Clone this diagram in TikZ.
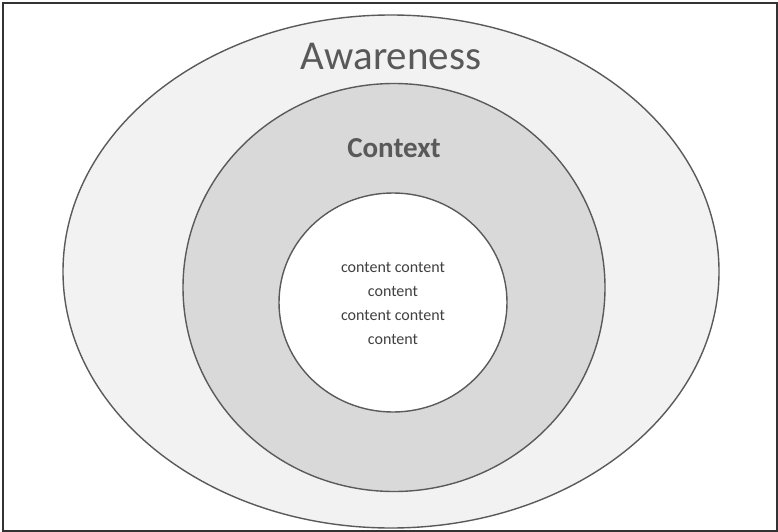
\documentclass[tikz,border=0pt]{standalone}
\usepackage{fontspec}
\setmainfont{Carlito}
\definecolor{ringline}{HTML}{5A5A5A}
\definecolor{outerfill}{HTML}{F2F2F2}
\definecolor{midfill}{HTML}{D9D9D9}
\definecolor{txtdark}{HTML}{595959}
\definecolor{txtcontent}{HTML}{404040}
\begin{document}
\begin{tikzpicture}[x=1pt,y=-1pt,
  ring/.style={draw=ringline,line width=1.4pt},
  contentline/.style={font=\fontsize{16}{18}\selectfont,text=txtcontent,inner sep=0pt}]
\useasboundingbox (0,0) rectangle (778,532);
\fill[white] (0,0) rectangle (778,532);
\draw[line width=1.2pt,draw=black!80] (3,3) rectangle (777,531);
\draw[ring,fill=outerfill] (391,271.5) ellipse [x radius=328,y radius=256.5];
\draw[ring,fill=midfill] (394,287.5) ellipse [x radius=211,y radius=204];
\draw[ring,fill=white] (393,302.5) ellipse [x radius=114,y radius=109.5];
\node[font=\fontsize{41}{45}\selectfont,text=txtdark] (aw) at (391,56) {Awareness};
\node[font=\fontsize{29}{33}\selectfont\bfseries,text=txtdark] (ctx) at (394,148) {Context};
\node[contentline] (c1) at (393,267) {content content};
\node[contentline] (c2) at (393,291) {content};
\node[contentline] (c3) at (393,315) {content content};
\node[contentline] (c4) at (393,339) {content};
\end{tikzpicture}
\end{document}
